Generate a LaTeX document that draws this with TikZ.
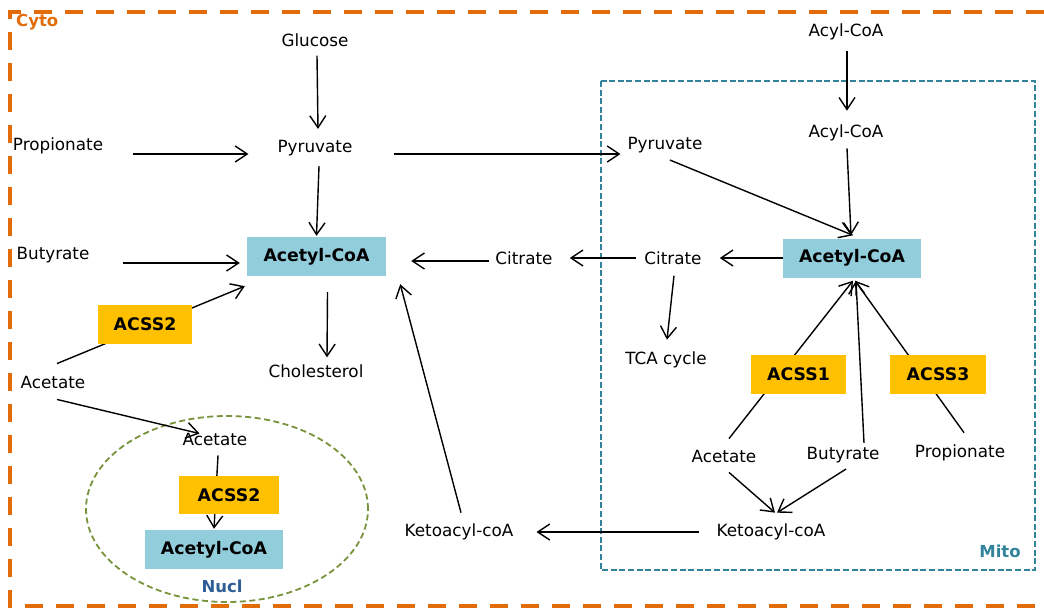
\documentclass[tikz,border=0pt]{standalone}
\usepackage{fontspec}
\setmainfont{DejaVu Sans}
\usepackage{xcolor}
\usetikzlibrary{arrows.meta}
\usetikzlibrary{positioning}
\definecolor{cytoorange}{HTML}{E36C0A}
\definecolor{mitoteal}{HTML}{31849B}
\definecolor{nuclgreen}{HTML}{77933C}
\definecolor{nucllabel}{HTML}{2F5D95}
\definecolor{acetylblue}{HTML}{92CDDC}
\definecolor{acssgold}{HTML}{FFC000}

\begin{document}
\begin{tikzpicture}[
  x=1pt, y=-1pt,
  every node/.style={inner sep=0pt, font=\fontsize{16.8}{19}\selectfont},
  metab/.style={text=black},
  acetyl/.style={fill=acetylblue, minimum width=138pt, minimum height=39pt, font=\fontsize{17.3}{19}\selectfont\bfseries},
  enzyme/.style={fill=acssgold, minimum width=95pt, minimum height=39pt, font=\fontsize{17.3}{19}\selectfont\bfseries},
  region/.style={font=\fontsize{16.5}{19}\selectfont\bfseries},
  arr/.style={draw=black, line width=1.4pt, -{Straight Barb[length=12pt, width=16pt, line width=1.4pt]}},
  link/.style={draw=black, line width=1.4pt}
]
\useasboundingbox (0,0) rectangle (1044,608);

\draw[cytoorange, line width=3.8pt, dash pattern=on 18pt off 13pt] (1044,12) -- (10,12) -- (10,606) -- (1044,606);
\node[region, text=cytoorange, anchor=west] (cyto) at (16,22) {Cyto};
\draw[mitoteal, line width=1.8pt, dash pattern=on 6pt off 2.6pt] (601,81) rectangle (1035,570);
\node[region, text=mitoteal] (mito) at (1000,551) {Mito};
\draw[nuclgreen, line width=1.8pt, dash pattern=on 6pt off 3.5pt] (227,509) ellipse [x radius=141pt, y radius=93pt];
\node[region, text=nucllabel] (nucl) at (222,586) {Nucl};

\node[metab] (glc) at (315,40) {Glucose};
\node[metab] (pyrC) at (315,148) {Pyruvate};
\node[metab] (propC) at (58,146) {Propionate};
\node[metab] (butC) at (53,255) {Butyrate};
\node[metab] (aceC) at (53,382) {Acetate};
\node[acetyl, minimum width=139pt] (acC) at (316.5,256.5) {Acetyl-CoA};
\node[metab] (chol) at (316,371) {Cholesterol};
\node[metab] (citC) at (524,258) {Citrate};
\node[metab] (ketC) at (459,532) {Ketoacyl-coA};
\node[metab] (aceN) at (215,439) {Acetate};
\node[acetyl] (acN) at (214,549.5) {Acetyl-CoA};

\node[metab] (acylO) at (846,32) {Acyl-CoA};
\node[metab] (acylI) at (846,133) {Acyl-CoA};
\node[metab] (pyrM) at (665,145) {Pyruvate};
\node[acetyl] (acM) at (852,258) {Acetyl-CoA};
\node[metab] (citM) at (673,258) {Citrate};
\node[metab] (tca) at (666,360) {TCA cycle};
\node[metab] (aceM) at (724,456) {Acetate};
\node[metab] (butM) at (843,455) {Butyrate};
\node[metab] (propM) at (960,453) {Propionate};
\node[metab] (ketM) at (771,532) {Ketoacyl-coA};

\draw[arr] ([shift={(2,9)}]glc.south) -- ([shift={(3,-11)}]pyrC.north);
\draw[arr] ([shift={(30,8)}]propC.east) -- ([shift={(-29,6)}]pyrC.west);
\draw[arr] ([shift={(41,6)}]pyrC.east) -- ([shift={(-7,9)}]pyrM.west);
\draw[arr] ([shift={(4,10)}]pyrC.south) -- ([shift={(0,-1)}]acC.north);
\draw[arr] ([shift={(33,8)}]butC.east) -- ([shift={(-7,6.5)}]acC.west);
\draw[arr] ([shift={(4,-12)}]aceC.north) -- ([shift={(-2,10)}]acC.south west);
\draw[arr] ([shift={(4,11)}]aceC.south) -- ([shift={(17,1)}]aceN.north west);
\draw[arr] ([shift={(11,16)}]acC.south) -- ([shift={(11,-7)}]chol.north);
\draw[arr] ([shift={(-6,3)}]citC.west) -- ([shift={(25,4.5)}]acC.east);
\draw[arr] ([shift={(2,-11)}]ketC.north) -- ([shift={(14,8)}]acC.south east);
\draw[arr] ([shift={(3,10)}]aceN.south) -- ([shift={(0,-1)}]acN.north);

\draw[arr] ([shift={(1,11)}]acylO.south) -- ([shift={(1,-14)}]acylI.north);
\draw[arr] ([shift={(1,7)}]acylI.south) -- ([shift={(-1,-3)}]acM.north);
\draw[arr] ([shift={(5,7)}]pyrM.south) -- ([shift={(1,-3)}]acM.north);
\draw[arr] (acM.west) -- ([shift={(18,0)}]citM.east);
\draw[arr] ([shift={(-8,0)}]citM.west) -- ([shift={(17,0)}]citC.east);
\draw[arr] ([shift={(1,11)}]citM.south) -- ([shift={(1,-12)}]tca.north);
\draw[arr] ([shift={(5,-11)}]aceM.north) -- ([shift={(1,3)}]acM.south);
\draw[arr] ([shift={(21,-4)}]butM.north) -- ([shift={(4,3)}]acM.south);
\draw[arr] ([shift={(4,-12)}]propM.north) -- ([shift={(3,3)}]acM.south);
\draw[arr] ([shift={(5,10)}]aceM.south) -- ([shift={(4,-11)}]ketM.north);
\draw[arr] ([shift={(3,6)}]butM.south) -- ([shift={(6,-11)}]ketM.north);
\draw[arr] ([shift={(-18,0)}]ketM.west) -- ([shift={(23,0)}]ketC.east);

\node[enzyme, minimum width=94pt] (acss2C) at (145,324.5) {ACSS2};
\node[enzyme, minimum width=100pt, minimum height=38pt] (acss2N) at (229,495) {ACSS2};
\node[enzyme] (acss1) at (798.5,374.5) {ACSS1};
\node[enzyme, minimum width=96pt] (acss3) at (938,374.5) {ACSS3};
\end{tikzpicture}
\end{document}
